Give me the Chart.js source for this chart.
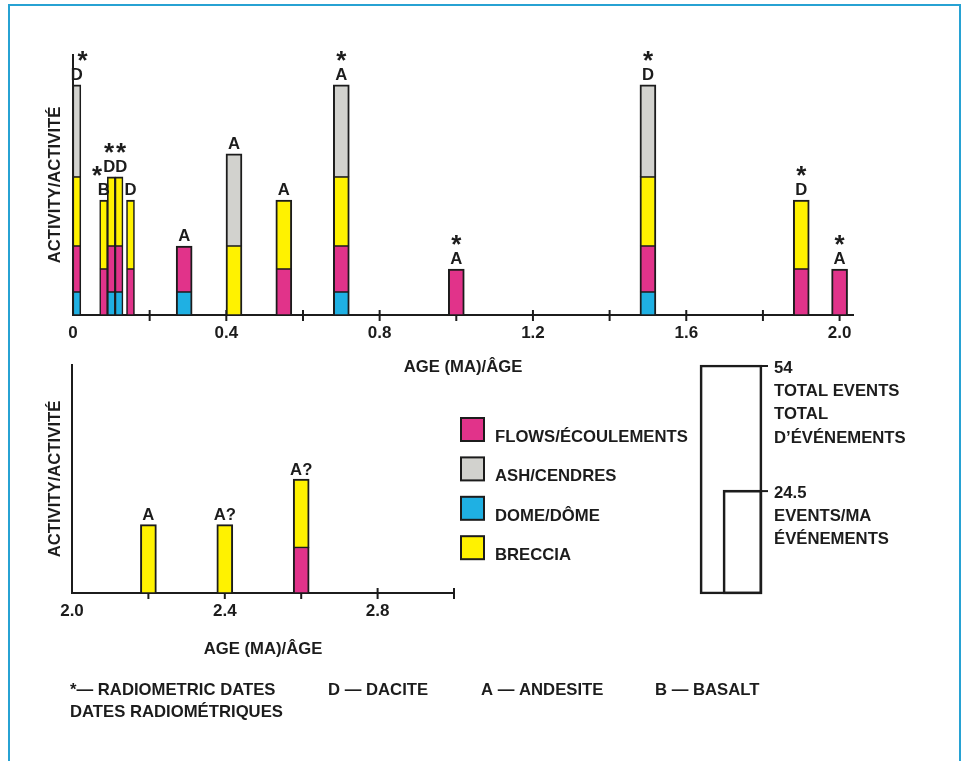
<!DOCTYPE html>
<html lang="fr">
<head>
<meta charset="utf-8">
<title>Activity / Activité</title>
<script src="https://cdn.jsdelivr.net/npm/chart.js@4.4.1/dist/chart.umd.min.js"></script>
<style>
  html, body { margin: 0; padding: 0; background: #fff; }
  body { width: 967px; height: 761px; position: relative; overflow: hidden; }
  .frame { position: absolute; left: 8px; top: 4px; width: 953px; height: 820px;
           border: 2px solid #27a2d3; box-sizing: border-box; }
  canvas { position: absolute; }
  #young  { left: 0; top: 0; }
  #old    { left: 0; top: 340px; }
  #totals { left: 690px; top: 340px; }
</style>
</head>
<body>
<div class="frame"></div>
<canvas id="young" width="967" height="379"></canvas>
<canvas id="old" width="967" height="400"></canvas>
<canvas id="totals" width="270" height="260"></canvas>
<script>
// ---------- events younger than 2 Ma (upper panel) ----------
const AGES    = [0.01, 0.08, 0.10, 0.12, 0.15, 0.29, 0.42, 0.55, 0.70, 1.00, 1.50, 1.90, 2.00];
const DOME    = [1, 0, 1, 1, 0, 1, 0, 0, 1, 0, 1, 0, 0];
const FLOWS   = [2, 2, 2, 2, 2, 2, 0, 2, 2, 2, 2, 2, 2];
const BRECCIA = [3, 3, 3, 3, 3, 0, 3, 3, 3, 0, 3, 3, 0];
const ASH     = [4, 0, 0, 0, 0, 0, 4, 0, 4, 0, 4, 0, 0];
const ROCK    = ['D', 'B', 'D', 'D', 'D', 'A', 'A', 'A', 'A', 'A', 'D', 'D', 'A'];
const DATED   = [1, 1, 1, 1, 0, 0, 0, 0, 1, 1, 1, 1, 1];

// ---------- events 2 – 3 Ma (lower panel) ----------
const AGES_OLD    = [2.2, 2.4, 2.6];
const DOME_OLD    = [0, 0, 0];
const FLOWS_OLD   = [0, 0, 2];
const BRECCIA_OLD = [3, 3, 3];
const ASH_OLD     = [0, 0, 0];
const ROCK_OLD    = ['A', 'A?', 'A?'];
const DATED_OLD   = [0, 0, 0];

// ---------- axis labels ----------
const X_LABELS_YOUNG = ['0', '0.4', '0.8', '1.2', '1.6', '2.0'];
const X_LABELS_OLD   = ['2.0', '2.4', '2.8'];

// ---------- totals ----------
const TOTAL_VALUES   = [54, 24.5];
const TOTAL_CAPTIONS = [['TOTAL EVENTS', 'TOTAL', 'D’ÉVÉNEMENTS'], ['EVENTS/MA', 'ÉVÉNEMENTS']];

// ---------- key ----------
const SERIES_NAMES = { flows: 'FLOWS/ÉCOULEMENTS', ash: 'ASH/CENDRES', dome: 'DOME/DÔME', breccia: 'BRECCIA' };
const LEGEND_ORDER = ['flows', 'ash', 'dome', 'breccia'];
const KEY_TEXT = ['*— RADIOMETRIC DATES', 'DATES RADIOMÉTRIQUES', 'D — DACITE', 'A — ANDESITE', 'B — BASALT'];

// ---------- styling ----------
const INK = '#1c1c1c';
const FONT = "'Liberation Sans', Arial, Helvetica, sans-serif";
const TEXT_SIZE = 16.7;
const STAR_SIZE = 26;
const COLORS = { dome: '#1fb0e3', flows: '#e1338a', breccia: '#fff200', ash: '#d2d2ce' };
const CLUSTER_END = 0.2;   // the crowded youngest events get thin bars

const font = size => ({ family: FONT, size, weight: 'bold', lineHeight: 1.2 });

function buildDatasets(ages, parts) {
  // parts are listed from the bottom of each stack to the top
  const thick = a => (a < CLUSTER_END ? 8 : 16);
  const topPart = ages.map((a, i) => {
    let t = -1;
    parts.forEach((p, k) => { if (p.values[i] > 0) t = k; });
    return t;
  });
  const sets = [];
  parts.forEach((p, k) => {
    [8, 16].forEach(w => {
      const idx = ages.map((a, i) => i).filter(i => thick(ages[i]) === w && p.values[i] > 0);
      if (!idx.length) return;
      const side = w < 10 ? 1.6 : 2;
      sets.push({
        label: p.name,
        data: idx.map(i => ({ x: ages[i], y: p.values[i] })),
        backgroundColor: p.color,
        borderColor: INK,
        borderWidth: c => {
          const i = idx[c.dataIndex];
          return { left: side, right: side, top: topPart[i] === k ? 2 : 1.1, bottom: 1.1 };
        },
        borderSkipped: false,
        barThickness: w,
        grouped: false,
        stack: 'events',
        clip: false
      });
    });
  });
  return sets;
}

function glyphBox(ctx, text) {
  const m = ctx.measureText(text);
  return { w: m.actualBoundingBoxLeft + m.actualBoundingBoxRight,
           asc: m.actualBoundingBoxAscent, desc: m.actualBoundingBoxDescent, adv: m.width };
}
function drawCentered(ctx, text, cx, cy) {
  const g = glyphBox(ctx, text);
  ctx.textAlign = 'center';
  ctx.textBaseline = 'alphabetic';
  ctx.fillText(text, cx, cy + (g.asc - g.desc) / 2);
}

// rock-type letter and radiometric-date star above each stack
const barNotes = {
  id: 'barNotes',
  afterDatasetsDraw(chart, _args, o) {
    const { ctx, scales: { x, y } } = chart;
    ctx.save();
    ctx.fillStyle = INK;
    ctx.font = `bold ${TEXT_SIZE}px ${FONT}`;
    const notes = o.ages.map((a, i) => {
      const total = o.parts.reduce((s, p) => s + p[i], 0);
      const top = y.getPixelForValue(total);
      const g = glyphBox(ctx, o.rocks[i]);
      return { x: x.getPixelForValue(a), y: top - 10.5, w: g.w, h: g.asc, top,
               text: o.rocks[i], dated: o.dated[i] };
    });
    // spread letters that would touch on the same row
    for (let k = 1; k < notes.length; k++) {
      const a = notes[k - 1], b = notes[k];
      if (Math.abs(a.y - b.y) < 6) {
        const need = (a.w + b.w) / 2 + 1 - (b.x - a.x);
        if (need > 0) { a.x -= need / 2; b.x += need / 2; }
      }
    }
    notes.forEach(n => drawCentered(ctx, n.text, n.x, n.y));

    ctx.font = `bold ${STAR_SIZE}px ${FONT}`;
    const sg = glyphBox(ctx, '*');
    const sh = sg.asc + sg.desc;
    notes.filter(n => n.dated).forEach(n => {
      let sx = n.x;
      const sy = n.top - 29;
      if (sx - sg.w / 2 < x.left + 4) sx = x.left + 4 + sg.w / 2;   // clear of the axis line
      notes.forEach(m => {
        if (m === n) return;
        const hitY = Math.abs(m.y - sy) < (m.h + sh) / 2;
        const gap = (m.w + sg.w) / 2 + 1;
        if (hitY && Math.abs(m.x - sx) < gap) sx = m.x + (sx < m.x ? -gap : gap);
      });
      drawCentered(ctx, '*', sx, sy);
    });
    ctx.restore();
  }
};

// tick marks crossing the time axis (bars are drawn over them)
const axisTicks = {
  id: 'axisTicks',
  beforeDatasetsDraw(chart) {
    const { ctx, scales: { x }, chartArea } = chart;
    ctx.save();
    ctx.strokeStyle = INK;
    ctx.lineWidth = 2;
    x.ticks.forEach(t => {
      if (t.value === x.min) return;
      const px = x.getPixelForValue(t.value);
      ctx.beginPath();
      ctx.moveTo(px, chartArea.bottom - 5);
      ctx.lineTo(px, chartArea.bottom + 6);
      ctx.stroke();
    });
    ctx.restore();
  }
};

function timeChart(canvas, cfg) {
  const parts = [
    { name: SERIES_NAMES.dome,    values: cfg.dome,    color: COLORS.dome },
    { name: SERIES_NAMES.flows,   values: cfg.flows,   color: COLORS.flows },
    { name: SERIES_NAMES.breccia, values: cfg.breccia, color: COLORS.breccia },
    { name: SERIES_NAMES.ash,     values: cfg.ash,     color: COLORS.ash }
  ];
  const fmt = v => (v === 0 ? '0' : v.toFixed(1));
  return new Chart(canvas, {
    type: 'bar',
    data: { datasets: buildDatasets(cfg.ages, parts) },
    options: {
      responsive: false,
      animation: false,
      events: [],
      layout: { padding: cfg.padding },
      plugins: {
        legend: { display: false },
        tooltip: { enabled: false },
        barNotes: { ages: cfg.ages, parts: parts.map(p => p.values), rocks: cfg.rocks, dated: cfg.dated }
      },
      scales: {
        x: {
          type: 'linear', min: cfg.xMin, max: cfg.xMax, offset: false,
          grid: { display: false, drawTicks: false, tickLength: 0 },
          border: { display: true, color: INK, width: 2 },
          ticks: {
            stepSize: 0.2, includeBounds: false, autoSkip: false, maxRotation: 0, minRotation: 0,
            padding: 8, color: INK, font: font(17),
            callback: v => (cfg.xLabels.includes(fmt(v)) ? fmt(v) : '')
          },
          title: { display: true, text: 'AGE (MA)/ÂGE', color: INK, font: font(TEXT_SIZE),
                   padding: { top: 0, bottom: 2 } },
          afterFit: s => { s.height = cfg.xAxisHeight; }
        },
        y: {
          stacked: true, min: 0, max: cfg.yMax,
          grid: { display: false, drawTicks: false },
          border: { display: true, color: INK, width: 2 },
          ticks: { display: false },
          title: { display: true, text: 'ACTIVITY/ACTIVITÉ', color: INK, font: font(TEXT_SIZE),
                   padding: { top: cfg.yTitleGap, bottom: 0 } },
          afterFit: s => { s.width = cfg.yAxisWidth; }
        }
      }
    },
    plugins: [axisTicks, barNotes, ...(cfg.extraPlugins || [])]
  });
}

// legend squares and the footnote key, drawn beside the lower panel
const keyNotes = {
  id: 'keyNotes',
  afterDraw(chart) {
    const { ctx, chartArea } = chart;
    ctx.save();
    ctx.font = `bold ${TEXT_SIZE}px ${FONT}`;
    ctx.textAlign = 'left';
    ctx.textBaseline = 'alphabetic';
    const lx = chartArea.right + 6, ly = chartArea.top + 52;
    LEGEND_ORDER.forEach((key, k) => {
      const top = ly + k * 39.4;
      ctx.fillStyle = INK;
      ctx.fillRect(lx, top, 25, 25);
      ctx.fillStyle = COLORS[key];
      ctx.fillRect(lx + 2, top + 2, 21, 21);
      ctx.fillStyle = INK;
      ctx.fillText(SERIES_NAMES[key], lx + 35, top + 25);
    });
    const base = chartArea.bottom + 102;
    ctx.fillText(KEY_TEXT[0], 70, base);
    ctx.fillText(KEY_TEXT[1], 70, base + 22);
    ctx.fillText(KEY_TEXT[2], 328, base);
    ctx.fillText(KEY_TEXT[3], 481, base);
    ctx.fillText(KEY_TEXT[4], 655, base);
    ctx.restore();
  }
};

timeChart(document.getElementById('young'), {
  ages: AGES, dome: DOME, flows: FLOWS, breccia: BRECCIA, ash: ASH, rocks: ROCK, dated: DATED,
  xMin: 0, xMax: 2.035, yMax: 11.3, xLabels: X_LABELS_YOUNG,
  padding: { top: 55, right: 114, bottom: 0, left: 0 },
  xAxisHeight: 64, yAxisWidth: 73, yTitleGap: 45
});

timeChart(document.getElementById('old'), {
  ages: AGES_OLD, dome: DOME_OLD, flows: FLOWS_OLD, breccia: BRECCIA_OLD, ash: ASH_OLD,
  rocks: ROCK_OLD, dated: DATED_OLD,
  xMin: 2.0, xMax: 3.0, yMax: 10, xLabels: X_LABELS_OLD,
  padding: { top: 25, right: 513, bottom: 79, left: 0 },
  xAxisHeight: 68, yAxisWidth: 72, yTitleGap: 45,
  extraPlugins: [keyNotes]
});

// total events and events per Ma, drawn as nested open bars on one scale
const totalNotes = {
  id: 'totalNotes',
  afterDatasetsDraw(chart) {
    const { ctx } = chart;
    ctx.save();
    ctx.strokeStyle = INK;
    ctx.fillStyle = INK;
    ctx.lineWidth = 2;
    ctx.font = `bold ${TEXT_SIZE}px ${FONT}`;
    ctx.textAlign = 'left';
    ctx.textBaseline = 'alphabetic';
    const cap = glyphBox(ctx, 'E').asc;
    chart.data.datasets.forEach((ds, d) => {
      chart.getDatasetMeta(d).data.forEach((bar, i) => {
        const v = ds.data[i];
        if (v == null) return;
        const right = bar.x + bar.width / 2;
        const top = bar.y + 1;
        ctx.beginPath();
        ctx.moveTo(right - 1, top);
        ctx.lineTo(right + 6, top);
        ctx.stroke();
        [String(v), ...TOTAL_CAPTIONS[i]].forEach((s, k) =>
          ctx.fillText(s, right + 12, top + 0.5 + cap / 2 + k * 23.4));
      });
    });
    ctx.restore();
  }
};

new Chart(document.getElementById('totals'), {
  type: 'bar',
  data: {
    labels: ['total', 'rate'],
    datasets: [
      { data: [TOTAL_VALUES[0], null], barThickness: 62 },
      { data: [null, TOTAL_VALUES[1]], barThickness: 39 }
    ].map(d => Object.assign(d, {
      backgroundColor: 'rgba(255,255,255,0)', borderColor: INK, borderWidth: 2,
      borderSkipped: false, grouped: false, clip: false
    }))
  },
  options: {
    responsive: false,
    animation: false,
    events: [],
    layout: { padding: { top: 25, bottom: 6, left: 41, right: 217.5 } },
    plugins: { legend: { display: false }, tooltip: { enabled: false } },
    scales: {
      x: { display: false, offset: false },
      y: { display: false, min: 0, max: Math.max(...TOTAL_VALUES) }
    }
  },
  plugins: [totalNotes]
});
</script>
</body>
</html>
